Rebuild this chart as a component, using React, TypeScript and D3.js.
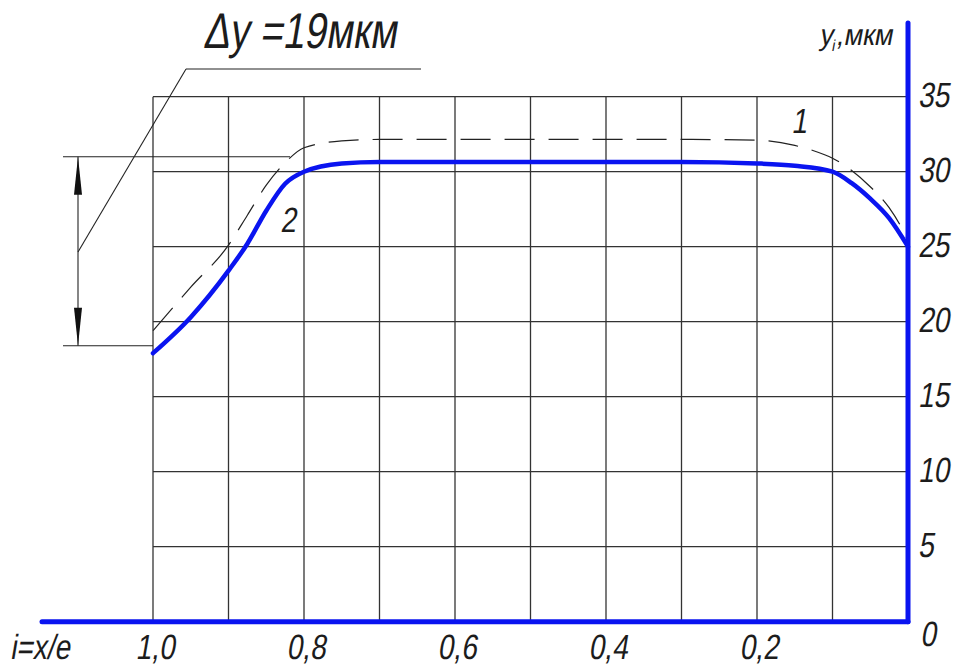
import React from "react";
import * as d3 from "d3";

const xTicks = [1.0, 0.8, 0.6, 0.4, 0.2];
const xTickLabels = ["1,0", "0,8", "0,6", "0,4", "0,2"];
const originLabel = "0";
const xGrid = [1.0, 0.9, 0.8, 0.7, 0.6, 0.5, 0.4, 0.3, 0.2, 0.1];
const yTicks = [5, 10, 15, 20, 25, 30, 35];
const yGrid = [5, 10, 15, 20, 25, 30, 35];

const curve2X = [1.0, 0.95, 0.9, 0.875, 0.85, 0.825, 0.8, 0.75, 0.7, 0.6, 0.5, 0.4, 0.3, 0.2, 0.15, 0.1, 0.075, 0.05, 0.025, 0];
const curve2Y = [17.9, 20.3, 23.4, 25.2, 27.4, 29.2, 30.0, 30.55, 30.65, 30.65, 30.65, 30.65, 30.65, 30.55, 30.4, 30.0, 29.25, 28.2, 26.9, 25.0];

const curve1X = [1.0, 0.95, 0.9, 0.875, 0.85, 0.825, 0.8, 0.75, 0.7, 0.6, 0.5, 0.4, 0.3, 0.2, 0.15, 0.125, 0.1, 0.075, 0.05, 0.025, 0.01, 0];
const curve1Y = [19.4, 22.3, 25.1, 27.1, 29.1, 30.6, 31.6, 32.05, 32.15, 32.15, 32.15, 32.15, 32.15, 32.1, 31.75, 31.4, 30.9, 30.1, 29.0, 27.6, 26.4, 25.4];

const titleText = "Δy =19мкм";
const yAxisTitle = "y";
const yAxisSub = "i";
const yAxisUnit = ",мкм";
const xAxisTitle = "i=x/e";
const label1 = "1";
const label2 = "2";

const W = 959;
const H = 668;
const FONT = "'Liberation Sans', Arial, sans-serif";
const BLUE = "#0a14f0";
const INK = "#1c1c1c";

function NText(props: {
  x: number;
  y: number;
  size: number;
  sx?: number;
  anchor?: "start" | "middle" | "end";
  children: React.ReactNode;
}) {
  const { x, y, size, sx = 0.8, anchor = "start", children } = props;
  return (
    <text
      transform={`translate(${x},${y}) scale(${sx},1) skewX(-12)`}
      fontSize={size}
      textAnchor={anchor}
      style={{ fontFamily: FONT, fill: INK }}
    >
      {children}
    </text>
  );
}

export default function App() {
  const x = d3.scaleLinear().domain([1, 0]).range([153, 908]);
  const y = d3.scaleLinear().domain([0, 35]).range([621.7, 96.7]);

  const line = d3
    .line<[number, number]>()
    .x((d) => x(d[0]))
    .y((d) => y(d[1]))
    .curve(d3.curveMonotoneX);

  const d2 = line(curve2X.map((v, i) => [v, curve2Y[i]]) as [number, number][]) || "";
  const d1 = line(curve1X.map((v, i) => [v, curve1Y[i]]) as [number, number][]) || "";

  const upperDim = y(31.0);
  const lowerDim = y(18.4);
  const dimX = 78;

  return (
    <div style={{ position: "absolute", left: 0, top: 0 }}>
      <svg width={W} height={H} viewBox={`0 0 ${W} ${H}`} style={{ display: "block", background: "#fff" }}>
        {/* grid */}
        <g stroke="#333" strokeWidth={1.3}>
          {xGrid.map((v) => (
            <line key={"gx" + v} x1={x(v)} x2={x(v)} y1={y(35)} y2={y(0)} />
          ))}
          {yGrid.map((v) => (
            <line key={"gy" + v} x1={x(1)} x2={x(0)} y1={y(v)} y2={y(v)} />
          ))}
        </g>

        {/* dashed curve 1 */}
        <path d={d1} fill="none" stroke="#222" strokeWidth={1.2} strokeDasharray="30 14" />
        {/* blue curve 2 */}
        <path d={d2} fill="none" stroke={BLUE} strokeWidth={4.5} strokeLinejoin="round" strokeLinecap="round" />

        {/* axes */}
        <line x1={42} x2={x(0)} y1={y(0)} y2={y(0)} stroke={BLUE} strokeWidth={5} strokeLinecap="round" />
        <line x1={x(0)} x2={x(0)} y1={y(0)} y2={23} stroke={BLUE} strokeWidth={5} strokeLinecap="round" />

        {/* y tick labels */}
        {yTicks.map((v) => (
          <NText key={"yt" + v} x={918} y={y(v) + 10.5} size={35}>
            {String(v)}
          </NText>
        ))}
        <NText x={928} y={646} size={35} anchor="middle">
          {originLabel}
        </NText>

        {/* x tick labels */}
        {xTicks.map((v, i) => (
          <NText key={"xt" + v} x={x(v) + 2} y={659} size={35} anchor="middle">
            {xTickLabels[i]}
          </NText>
        ))}
        <NText x={10} y={659} size={35}>
          {xAxisTitle}
        </NText>

        {/* y axis title */}
        <text
          transform={`translate(819,45) scale(0.9,1) skewX(-12)`}
          fontSize={30}
          style={{ fontFamily: FONT, fill: INK }}
        >
          {yAxisTitle}
          <tspan fontSize={16} dy={6}>{yAxisSub}</tspan>
          <tspan fontSize={30} dy={-6}>{yAxisUnit}</tspan>
        </text>

        {/* curve labels */}
        <NText x={799} y={133} size={35} anchor="middle">
          {label1}
        </NText>
        <NText x={288} y={232} size={35} anchor="middle">
          {label2}
        </NText>

        {/* title and leader */}
        <NText x={203} y={48} size={50} sx={0.78}>
          {titleText}
        </NText>
        <g stroke="#222" strokeWidth={1.1} fill="none">
          <line x1={186} y1={69} x2={421} y2={69} />
          <line x1={186} y1={69} x2={dimX} y2={252} />
          {/* dimension lines */}
          <line x1={63} y1={upperDim} x2={290} y2={upperDim} />
          <line x1={63} y1={lowerDim} x2={x(1)} y2={lowerDim} />
          <line x1={dimX} y1={upperDim} x2={dimX} y2={lowerDim} />
        </g>
        <path
          d={`M${dimX},${upperDim} L${dimX - 4},${upperDim + 38} L${dimX + 4},${upperDim + 38} Z`}
          fill="#111"
        />
        <path
          d={`M${dimX},${lowerDim} L${dimX - 4},${lowerDim - 38} L${dimX + 4},${lowerDim - 38} Z`}
          fill="#111"
        />
      </svg>
    </div>
  );
}
